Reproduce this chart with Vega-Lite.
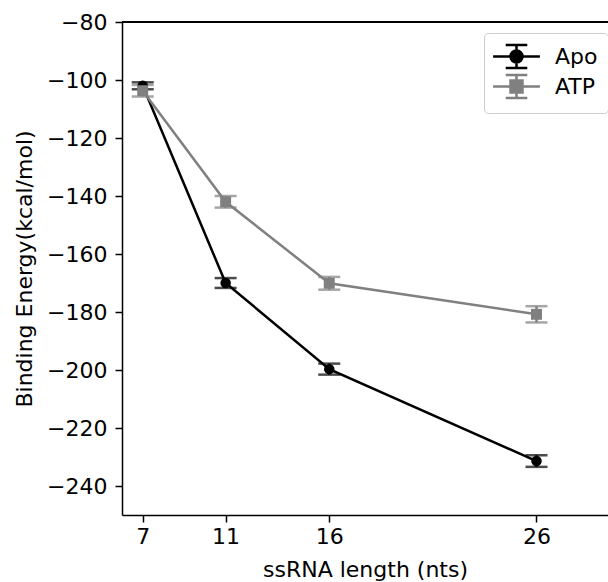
{
  "$schema": "https://vega.github.io/schema/vega-lite/v6.json",
  "width": 486,
  "height": 493,
  "autosize": {"type": "none"},
  "padding": {"left": 122, "top": 22, "right": 0, "bottom": 67},
  "background": "white",
  "config": {
    "view": {"stroke": null},
    "font": "DejaVu Sans",
    "axis": {
      "labelFont": "DejaVu Sans", "labelFontSize": 22, "labelColor": "black",
      "titleFont": "DejaVu Sans", "titleFontSize": 22, "titleFontWeight": "normal", "titleColor": "black",
      "domainColor": "black", "domainWidth": 1.5, "tickColor": "black", "tickWidth": 1.5, "tickSize": 7,
      "grid": false
    },
    "legend": {"labelFont": "DejaVu Sans", "labelFontSize": 22, "labelColor": "black"}
  },
  "data": {
    "values": [
      {"len": 7, "series": "Apo", "energy": -102.0, "lo": -103.2, "hi": -100.8},
      {"len": 11, "series": "Apo", "energy": -170.0, "lo": -171.7, "hi": -168.3},
      {"len": 16, "series": "Apo", "energy": -199.7, "lo": -201.6, "hi": -197.8},
      {"len": 26, "series": "Apo", "energy": -231.4, "lo": -233.4, "hi": -229.4},
      {"len": 7, "series": "ATP", "energy": -103.7, "lo": -105.7, "hi": -101.7},
      {"len": 11, "series": "ATP", "energy": -142.0, "lo": -144.0, "hi": -140.0},
      {"len": 16, "series": "ATP", "energy": -170.1, "lo": -172.3, "hi": -167.9},
      {"len": 26, "series": "ATP", "energy": -180.8, "lo": -183.6, "hi": -178.0}
    ]
  },
  "encoding": {
    "x": {"field": "len", "type": "quantitative", "scale": {"domain": [6, 29.45], "nice": false, "zero": false},
      "axis": {"values": [7, 11, 16, 26], "title": "ssRNA length (nts)", "labelPadding": 4, "titlePadding": 12}},
    "y": {"field": "energy", "type": "quantitative", "scale": {"domain": [-250, -80], "nice": false, "zero": false},
      "axis": {"values": [-240, -220, -200, -180, -160, -140, -120, -100, -80], "title": "Binding Energy(kcal/mol)", "labelPadding": 8, "titlePadding": 10}},
    "color": {"field": "series", "type": "nominal", "scale": {"domain": ["Apo", "ATP"], "range": ["black", "#808080"]}}
  },
  "layer": [
    {"mark": {"type": "rule", "color": "black", "strokeWidth": 1.5}, "encoding": {"y": {"datum": -80}, "x": null, "color": null}},
    {"mark": {"type": "line", "strokeWidth": 2.5}, "encoding": {"detail": {"field": "series"}}},
    {"mark": {"type": "rule", "strokeWidth": 2.5}, "encoding": {"y": {"field": "lo", "type": "quantitative"}, "y2": {"field": "hi"}}},
    {"mark": {"type": "tick", "orient": "horizontal", "size": 22, "thickness": 2.5}, "encoding": {"y": {"field": "lo", "type": "quantitative"}}},
    {"mark": {"type": "tick", "orient": "horizontal", "size": 22, "thickness": 2.5}, "encoding": {"y": {"field": "hi", "type": "quantitative"}}},
    {"transform": [{"filter": "datum.series === 'Apo'"}], "mark": {"type": "point", "shape": "circle", "filled": true, "size": 110, "opacity": 1}},
    {"transform": [{"filter": "datum.series === 'ATP'"}], "mark": {"type": "point", "shape": "square", "filled": true, "size": 120, "opacity": 1}},
    {"mark": {"type": "point", "filled": true, "opacity": 0},
      "encoding": {
        "shape": {"field": "series", "type": "nominal",
          "scale": {"domain": ["Apo", "ATP"], "range": [
            "M-1.95,0H1.95M0,-0.95V0.95M-0.9,-0.95H0.9M-0.9,0.95H0.9M0.5,0A0.5,0.5,0,1,1,-0.5,0A0.5,0.5,0,1,1,0.5,0Z",
            "M-1.95,0H1.95M0,-0.95V0.95M-0.9,-0.95H0.9M-0.9,0.95H0.9M-0.5,-0.5H0.5V0.5H-0.5Z"]},
          "legend": {"title": null, "orient": "none", "legendX": 362, "legendY": 11, "symbolSize": 576, "symbolStrokeWidth": 2.5,
            "symbolOpacity": 1, "symbolOffset": 9, "labelOffset": 25, "padding": 10, "rowPadding": -4, "strokeColor": "#cccccc", "fillColor": "white", "cornerRadius": 4,
            "encode": {"symbols": {"update": {"stroke": {"scale": "color", "field": "value"}, "fill": {"scale": "color", "field": "value"}, "opacity": {"value": 1}, "strokeWidth": {"value": 2.5}}}}}},
        "color": {"field": "series", "type": "nominal",
          "legend": {"title": null, "orient": "none", "legendX": 362, "legendY": 11, "symbolSize": 576, "symbolStrokeWidth": 2.5,
            "symbolOpacity": 1, "symbolOffset": 9, "labelOffset": 25, "padding": 10, "rowPadding": -4, "strokeColor": "#cccccc", "fillColor": "white", "cornerRadius": 4,
            "encode": {"symbols": {"update": {"stroke": {"scale": "color", "field": "value"}, "fill": {"scale": "color", "field": "value"}, "opacity": {"value": 1}, "strokeWidth": {"value": 2.5}}}}}}
      }}
  ]
}
